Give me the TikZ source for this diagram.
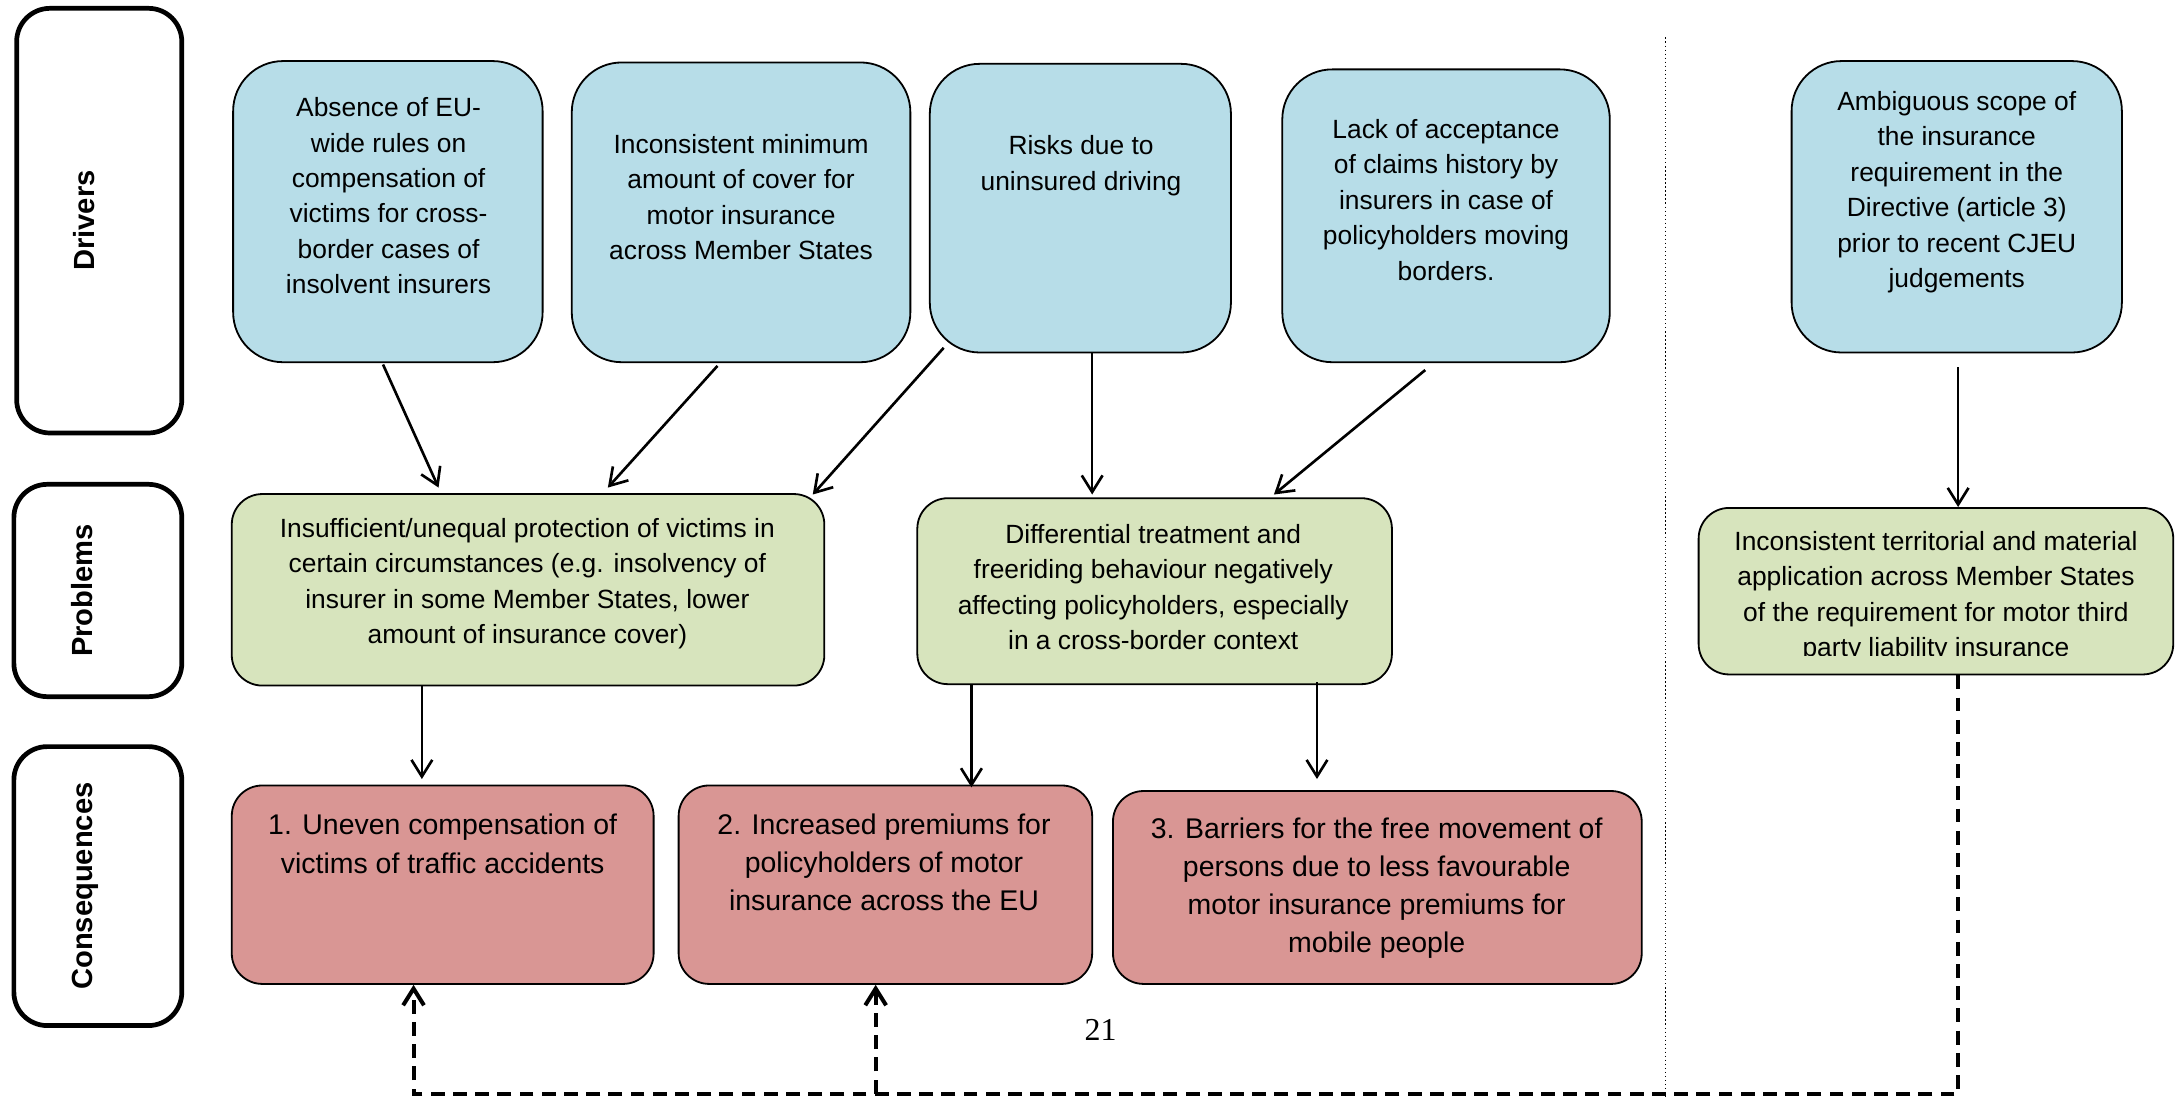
\documentclass[tikz,border=0pt]{standalone}
\usepackage{fontspec}
\setmainfont{Liberation Sans}
\newfontfamily\pagefont{Liberation Serif}
\usetikzlibrary{arrows.meta}
\definecolor{drvblue}{RGB}{183,221,232}
\definecolor{prbgreen}{RGB}{215,228,189}
\definecolor{csqred}{RGB}{217,150,148}

\begin{document}
\begin{tikzpicture}[x=1pt,y=-1pt,
        lane/.style={draw,line width=3.4pt,rounded corners=24pt,fill=white},
        lanetext/.style={rotate=90,text height=15pt,text depth=0pt,inner sep=0pt,
            font=\fontsize{21}{25}\selectfont\bfseries},
        drv/.style={draw,line width=1.3pt,rounded corners=36pt,fill=drvblue},
        prb/.style={draw,line width=1.3pt,rounded corners=22pt,fill=prbgreen},
        csq/.style={draw,line width=1.3pt,rounded corners=22pt,fill=csqred},
        txt/.style={align=center,inner sep=0pt,font=\fontsize{19}{25.5}\selectfont},
        bigtxt/.style={align=center,inner sep=0pt,font=\fontsize{20.5}{27.5}\selectfont},
        arr/.style={-{Straight Barb[length=12pt,width=15pt]},line width=1.9pt},
        fb/.style={-{Straight Barb[length=12pt,width=15pt]},line width=2.9pt,
            dash pattern=on 10pt off 6pt}]
                \useasboundingbox (0,0) rectangle (1568,790);

                \node[lane,minimum width=119,minimum height=306] (lbl1) at (71.5,159) {};
                \node[lanetext] (lbl1t) at ([xshift=-11]lbl1.center) {Drivers};
                \node[lane,minimum width=121,minimum height=153] (lbl2) at (70.5,425.5) {};
                \node[lanetext] (lbl2t) at ([xshift=-11]lbl2.center) {Problems};
                \node[lane,minimum width=121,minimum height=201] (lbl3) at (70.5,638.5) {};
                \node[lanetext] (lbl3t) at ([xshift=-11]lbl3.center) {Consequences};

                \node[drv,minimum width=223,minimum height=217] (d1) at (279.5,152.5) {};
                \node[txt] (d1t) at (280,141) {Absence of EU-\\wide rules on\\compensation of\\victims for cross-\\border cases of\\insolvent insurers};
                \node[drv,minimum width=244,minimum height=216] (d2) at (534,153) {};
                \node[txt] (d2t) at (534,142) {Inconsistent minimum\\amount of cover for\\motor insurance\\across Member States};
                \node[drv,minimum width=217,minimum height=208] (d3) at (778.5,150) {};
                \node[txt] (d3t) at (779,119.5) {Risks due to\\uninsured driving};
                \node[drv,minimum width=236,minimum height=211] (d4) at (1042,155.5) {};
                \node[txt] (d4t) at (1042,144) {Lack of acceptance\\of claims history by\\insurers in case of\\policyholders moving\\borders.};
                \node[drv,minimum width=238,minimum height=210] (d5) at (1410,149) {};
                \node[txt] (d5t) at (1410,138.5) {Ambiguous scope of\\the insurance\\requirement in the\\Directive (article 3)\\prior to recent CJEU\\judgements};

                \node[prb,minimum width=427,minimum height=138] (p1) at (380.5,425) {};
                \node[txt] (p1t) at (380,420.5) {Insufficient/unequal protection of victims in\\certain circumstances (e.g. insolvency of\\insurer in some Member States, lower\\amount of insurance cover)};
                \node[prb,minimum width=342,minimum height=134] (p2) at (832,426) {};
                \node[txt] (p2t) at (831,423) {Differential treatment and\\freeriding behaviour negatively\\affecting policyholders, especially\\in a cross-border context};
                \node[prb,minimum width=342,minimum height=120] (p3) at (1395,426) {};
                \begin{scope}
                    \clip (1230,370) rectangle (1560,472);
                    \node[txt] (p3t) at (1395,430) {Inconsistent territorial and material\\application across Member States\\of the requirement for motor third\\party liability insurance};
                \end{scope}

                \node[csq,minimum width=304,minimum height=143] (c1) at (319,637.5) {};
                \node[bigtxt] (c1t) at (319,608) {1. Uneven compensation of\\victims of traffic accidents};
                \node[csq,minimum width=298,minimum height=143] (c2) at (638,637.5) {};
                \node[bigtxt] (c2t) at (637,621.5) {2. Increased premiums for\\policyholders of motor\\insurance across the EU};
                \node[csq,minimum width=381,minimum height=139] (c3) at (992.5,639.5) {};
                \node[bigtxt] (c3t) at (992,640) {3. Barriers for the free movement of\\persons due to less favourable\\motor insurance premiums for\\mobile people};

                \node[font=\pagefont\fontsize{23}{23}\selectfont] (pg) at (793,742) {21};

                \draw[dotted,line width=0.9pt] (1200,27) -- (1200,790);

                \draw[arr] ([xshift=-3.5,yshift=-1]d1.south) -- ([xshift=-64.5,yshift=4]p1.north);
                \draw[arr] ([xshift=-17,yshift=-2]d2.south) -- ([xshift=57.5,yshift=4]p1.north);
                \draw[arr] ([xshift=-98.5,yshift=4]d3.south) -- ([xshift=-9,yshift=-1]p1.north east);
                \draw[arr] ([xshift=8.5]d3.south) -- ([xshift=-45,yshift=2]p2.north);
                \draw[arr] ([xshift=-15,yshift=-5]d4.south) -- ([xshift=86,yshift=2]p2.north);
                \draw[arr] ([xshift=1,yshift=-10]d5.south) -- ([xshift=16]p3.north);
                \draw[arr] ([xshift=-76.5]p1.south) -- ([xshift=-15,yshift=4]c1.north);
                \draw[arr] ([xshift=-132]p2.south) -- ([xshift=62,yshift=-2]c2.north);
                \draw[arr] ([xshift=117,yshift=2]p2.south) -- ([xshift=-43.5,yshift=8]c3.north);

                \coordinate (fbk) at ([xshift=16]p3.south |- 0,788);
                \draw[fb] ([xshift=16]p3.south) -- (fbk) -| ([xshift=-21]c1.south);
                \draw[fb] ([xshift=-7]c2.south |- fbk) -- ([xshift=-7]c2.south);
            \end{tikzpicture}
\end{document}
